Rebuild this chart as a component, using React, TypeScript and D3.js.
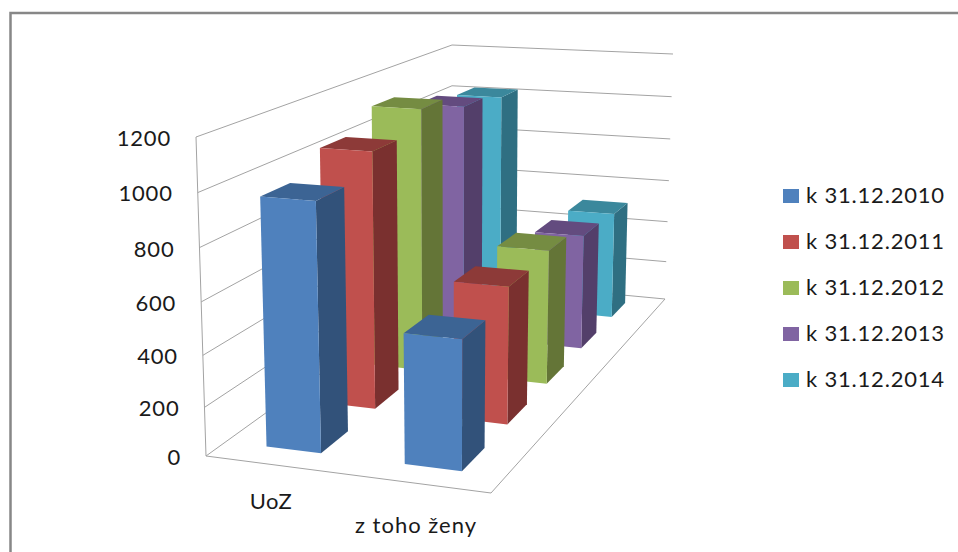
import React from "react";
import * as d3 from "d3";

const categories = ["UoZ", "z toho ženy"];
const seriesNames = ["k 31.12.2010", "k 31.12.2011", "k 31.12.2012", "k 31.12.2013", "k 31.12.2014"];
const values2010 = [964, 508];
const values2011 = [1047, 564];
const values2012 = [1128, 581];
const values2013 = [1056, 523];
const values2014 = [1019, 508];
const seriesValues = [values2010, values2011, values2012, values2013, values2014];
const frontColors = ["#4f81bd", "#c0504d", "#9bbb59", "#8064a2", "#4bacc6"];
const sideColors = ["#32527a", "#7a302f", "#647537", "#533f6a", "#2f6f82"];
const topColors = ["#3c6494", "#8d3a38", "#758c42", "#634b7f", "#3b889c"];
const yTicks = [0, 200, 400, 600, 800, 1000, 1200];

type P = [number, number];
// homography from unit square (u, d) to a quad: (0,0)=a, (1,0)=b, (1,1)=c, (0,1)=d
function quadMap(a: P, b: P, c: P, d: P) {
  const dx1 = b[0] - c[0], dx2 = d[0] - c[0], sx = a[0] - b[0] + c[0] - d[0];
  const dy1 = b[1] - c[1], dy2 = d[1] - c[1], sy = a[1] - b[1] + c[1] - d[1];
  const den = dx1 * dy2 - dx2 * dy1;
  const g = (sx * dy2 - dx2 * sy) / den;
  const h = (dx1 * sy - sx * dy1) / den;
  const A = b[0] - a[0] + g * b[0], B = d[0] - a[0] + h * d[0];
  const D = b[1] - a[1] + g * b[1], E = d[1] - a[1] + h * d[1];
  return (u: number, v: number): P => {
    const w = g * u + h * v + 1;
    return [(A * u + B * v + a[0]) / w, (D * u + E * v + a[1]) / w];
  };
}

const floorMap = quadMap([206, 456], [491, 493], [665, 299], [452, 279]);
const topMap = quadMap([196, 137], [494, 158], [673, 54], [452, 45]);
const yScale = d3.scalePow().exponent(1.05).domain([0, 1200]).range([0, 1]);
const project = (u: number, v: number, value: number): P => {
  const f = floorMap(u, v), t = topMap(u, v), k = yScale(value);
  return [f[0] + (t[0] - f[0]) * k, f[1] + (t[1] - f[1]) * k];
};
const catBand = d3.scaleBand<number>().domain([0, 1]).range([0, 1]).paddingInner(0.6).paddingOuter(0.3);
const depthBand = d3.scaleBand<number>().domain([0, 1, 2, 3, 4]).range([0.01, 1]).paddingInner(0.52).paddingOuter(0.26);
const line = d3.line<P>();
const poly = (pts: P[]) => line(pts) + "Z";
const legendY = d3.scalePoint<number>().domain([0, 1, 2, 3, 4]).range([196, 380]);
const font = "Lato, 'Open Sans', sans-serif";
const grid = "#a3a3a3";
const ink = "#1a1a1a";

export default function App() {
  const order = [4, 3, 2, 1, 0];
  return (
    <svg width={958} height={552} style={{ position: "absolute", left: 0, top: 0, display: "block" }} fontFamily={font}>
      <rect width={958} height={552} fill="#fff" />
      <rect x={10.5} y={13} width={960} height={560} fill="none" stroke="#878787" strokeWidth={2.5} />
      {yTicks.map((t) => (
        <path key={t} d={line([project(0, 0, t), project(0, 1, t), project(1, 1, t)])!} fill="none" stroke={grid} strokeWidth={1} />
      ))}
      <path d={line([project(0, 0, 0), project(0, 0, 1200)])!} stroke={grid} fill="none" />
      <path d={line([project(0, 0, 0), project(1, 0, 0), project(1, 1, 0)])!} stroke={grid} fill="none" />
      {order.map((s) =>
        categories.map((_, c) => {
          const u0 = catBand(c)!, u1 = u0 + catBand.bandwidth();
          const d0 = depthBand(s)!, d1 = d0 + depthBand.bandwidth();
          const v = seriesValues[s][c];
          return (
            <g key={s + "-" + c}>
              <path d={poly([project(u1, d0, 0), project(u1, d1, 0), project(u1, d1, v), project(u1, d0, v)])} fill={sideColors[s]} />
              <path d={poly([project(u0, d0, v), project(u1, d0, v), project(u1, d1, v), project(u0, d1, v)])} fill={topColors[s]} />
              <path d={poly([project(u0, d0, 0), project(u1, d0, 0), project(u1, d0, v), project(u0, d0, v)])} fill={frontColors[s]} />
            </g>
          );
        })
      )}
      {yTicks.map((t) => {
        const [px, py] = project(0, 0, t);
        return (
          <text key={t} x={px - 25} y={py + 1} dy="0.36em" textAnchor="end" fontSize={22} letterSpacing={0.8} fill={ink}>{t}</text>
        );
      })}
      <text x={271} y={501} dy="0.36em" textAnchor="middle" fontSize={22} letterSpacing={0.6} fill={ink}>{categories[0]}</text>
      <text x={416} y={525} dy="0.36em" textAnchor="middle" fontSize={22} letterSpacing={1} fill={ink}>{categories[1]}</text>
      {seriesNames.map((n, i) => (
        <g key={n}>
          <rect x={783} y={legendY(i)! - 7} width={16} height={14} fill={frontColors[i]} />
          <text x={806} y={legendY(i)! - 1} dy="0.36em" fontSize={22} letterSpacing={0.8} fill={ink}>{n}</text>
        </g>
      ))}
    </svg>
  );
}
